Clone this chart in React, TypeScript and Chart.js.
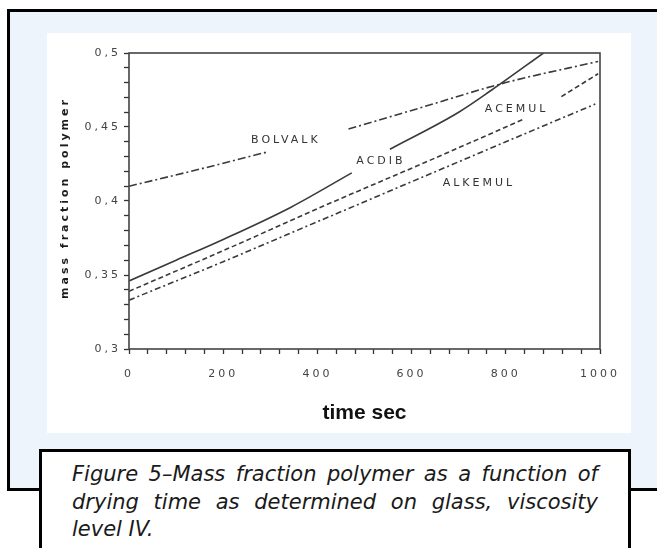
import { useEffect, useRef } from "react";
import { Chart, registerables } from "chart.js";

Chart.register(...registerables);

// ---- data ----
const acdibTime = [0, 100, 200, 345, 473, 510, 554, 700, 770, 880];
const acdibMass = [0.346, 0.36, 0.374, 0.396, 0.419, null, 0.435, 0.46, 0.475, 0.5];

const acemulTime = [0, 204, 416, 628, 836, 880, 918, 996];
const acemulMass = [0.339, 0.367, 0.397, 0.426, 0.455, null, 0.4705, 0.486];

const alkemulTime = [0, 200, 400, 600, 800, 990];
const alkemulMass = [0.333, 0.359, 0.386, 0.413, 0.44, 0.4655];

const bolvalkTime = [0, 150, 296, 380, 466, 600, 800, 996];
const bolvalkMass = [0.41, 0.4215, 0.4333, null, 0.4486, 0.4612, 0.48, 0.4943];

const seriesNames = ["ACDIB", "ACEMUL", "ALKEMUL", "BOLVALK"];
// where each series name is written (data coordinates)
const seriesLabelTime = [535, 823, 743, 333];
const seriesLabelMass = [0.4266, 0.462, 0.412, 0.4412];

const xTickLabels = ["0", "200", "400", "600", "800", "1000"];
const yTickLabels = ["0,3", "0,35", "0,4", "0,45", "0,5"];

const xTitle = "time sec";
const yTitle = "mass fraction polymer";

const captionLines = [
  "Figure 5–Mass fraction polymer as a function of",
  "drying time as determined on glass, viscosity",
  "level IV.",
];

const toPoints = (xs: number[], ys: (number | null)[]) =>
  xs.map((x, i) => ({ x, y: ys[i] }));

const LINE = "#3a3a3a";

export default function App() {
  const canvasRef = useRef<HTMLCanvasElement | null>(null);

  useEffect(() => {
    const canvas = canvasRef.current;
    if (!canvas) return;

    const spacingPlugin = {
      id: "spacing",
      beforeDraw(chart: any) {
        chart.ctx.letterSpacing = "3px";
      },
      afterDatasetsDraw(chart: any) {
        chart.ctx.letterSpacing = "0px";
      },
      afterDraw(chart: any) {
        const { ctx, chartArea } = chart;
        const xs = chart.scales.x;
        const ys = chart.scales.y;
        ctx.save();
        // frame
        ctx.strokeStyle = "#444";
        ctx.lineWidth = 1.6;
        ctx.strokeRect(
          chartArea.left,
          chartArea.top,
          chartArea.right - chartArea.left,
          chartArea.bottom - chartArea.top
        );
        ctx.letterSpacing = "3px";
        // series names
        ctx.font = '11px "DejaVu Sans", sans-serif';
        ctx.fillStyle = "#333";
        ctx.textAlign = "center";
        ctx.textBaseline = "middle";
        seriesNames.forEach((n, i) => {
          ctx.fillText(
            n,
            xs.getPixelForValue(seriesLabelTime[i]),
            ys.getPixelForValue(seriesLabelMass[i])
          );
        });
        // y title
        ctx.font = 'bold 11px "DejaVu Sans", sans-serif';
        ctx.fillStyle = "#1c1c1c";
        ctx.translate(chartArea.left - 64, (chartArea.top + chartArea.bottom) / 2 - 3);
        ctx.rotate(-Math.PI / 2);
        ctx.fillText(yTitle, 0, 0);
        ctx.restore();
      },
    };

    const common = {
      borderColor: LINE,
      borderWidth: 1.6,
      pointRadius: 0,
      fill: false,
      spanGaps: false,
      cubicInterpolationMode: "monotone",
    };

    const chart = new Chart(canvas, {
      type: "line",
      data: {
        datasets: [
          { ...common, label: seriesNames[0], data: toPoints(acdibTime, acdibMass) },
          { ...common, label: seriesNames[1], data: toPoints(acemulTime, acemulMass), borderDash: [5, 3] },
          { ...common, label: seriesNames[2], data: toPoints(alkemulTime, alkemulMass), borderDash: [6, 3, 2, 3] },
          { ...common, label: seriesNames[3], data: toPoints(bolvalkTime, bolvalkMass), borderDash: [8, 3, 2, 3] },
        ],
      },
      options: {
        responsive: false,
        animation: false,
        events: [],
        layout: { padding: { left: 0, top: 20, right: 31, bottom: 0 } },
        plugins: { legend: { display: false }, tooltip: { enabled: false } },
        scales: {
          x: {
            type: "linear",
            min: 0,
            max: 1000,
            afterFit: (s: any) => {
              s.height = 84;
            },
            border: { display: false },
            grid: {
              z: 1,
              drawOnChartArea: false,
              drawTicks: true,
              tickLength: 5,
              tickColor: "#333",
              tickWidth: 1.3,
            },
            ticks: {
              stepSize: 40,
              autoSkip: false,
              maxRotation: 0,
              padding: 14,
              color: "#444",
              font: { family: '"DejaVu Sans", sans-serif', size: 11 },
              callback: (v: any) => {
                const k = Math.round(Number(v));
                return k % 200 === 0 ? xTickLabels[k / 200] : "";
              },
            },
            title: {
              display: true,
              text: xTitle,
              color: "#111",
              font: { family: '"Liberation Sans", Arial, sans-serif', size: 21, weight: "bold" },
              padding: { top: 0, bottom: 7 },
            },
          },
          y: {
            type: "linear",
            min: 0.3,
            max: 0.5,
            afterFit: (s: any) => {
              s.width = 82;
            },
            border: { display: false },
            grid: {
              drawOnChartArea: false,
              drawTicks: true,
              tickLength: 5,
              tickColor: "#333",
              tickWidth: 1.3,
            },
            ticks: {
              stepSize: 0.01,
              autoSkip: false,
              padding: 3,
              color: "#444",
              font: { family: '"DejaVu Sans", sans-serif', size: 11 },
              callback: (v: any) => {
                const k = Math.round(Number(v) * 100);
                return k % 5 === 0 ? yTickLabels[(k - 30) / 5] : "";
              },
            },
          },
        },
      },
      plugins: [spacingPlugin],
    } as any);

    return () => chart.destroy();
  }, []);

  return (
    <div
      style={{
        position: "fixed",
        left: 0,
        top: 0,
        width: 657,
        height: 548,
        overflow: "hidden",
        background: "#fff",
      }}
    >
      <div
        style={{
          position: "absolute",
          left: 7,
          top: 9,
          width: 700,
          height: 482,
          boxSizing: "border-box",
          border: "3px solid #000",
          background: "#EDF4FC",
        }}
      />
      <div
        style={{
          position: "absolute",
          left: 47,
          top: 33,
          width: 584,
          height: 400,
          background: "#fff",
        }}
      >
        <canvas ref={canvasRef} width={584} height={400} style={{ display: "block", width: 584, height: 400 }} />
      </div>
      <div
        style={{
          position: "absolute",
          left: 39,
          top: 449,
          width: 592,
          height: 130,
          boxSizing: "border-box",
          border: "3px solid #000",
          background: "#fff",
          padding: "9px 30px 0 30px",
          fontFamily: '"DejaVu Sans", sans-serif',
          fontStyle: "italic",
          fontSize: 21,
          lineHeight: "27.5px",
          color: "#1a1a1a",
        }}
      >
        <div style={{ textAlign: "justify", textAlignLast: "justify" }}>{captionLines[0]}</div>
        <div style={{ textAlign: "justify", textAlignLast: "justify" }}>{captionLines[1]}</div>
        <div style={{ textAlign: "left" }}>{captionLines[2]}</div>
      </div>
    </div>
  );
}
